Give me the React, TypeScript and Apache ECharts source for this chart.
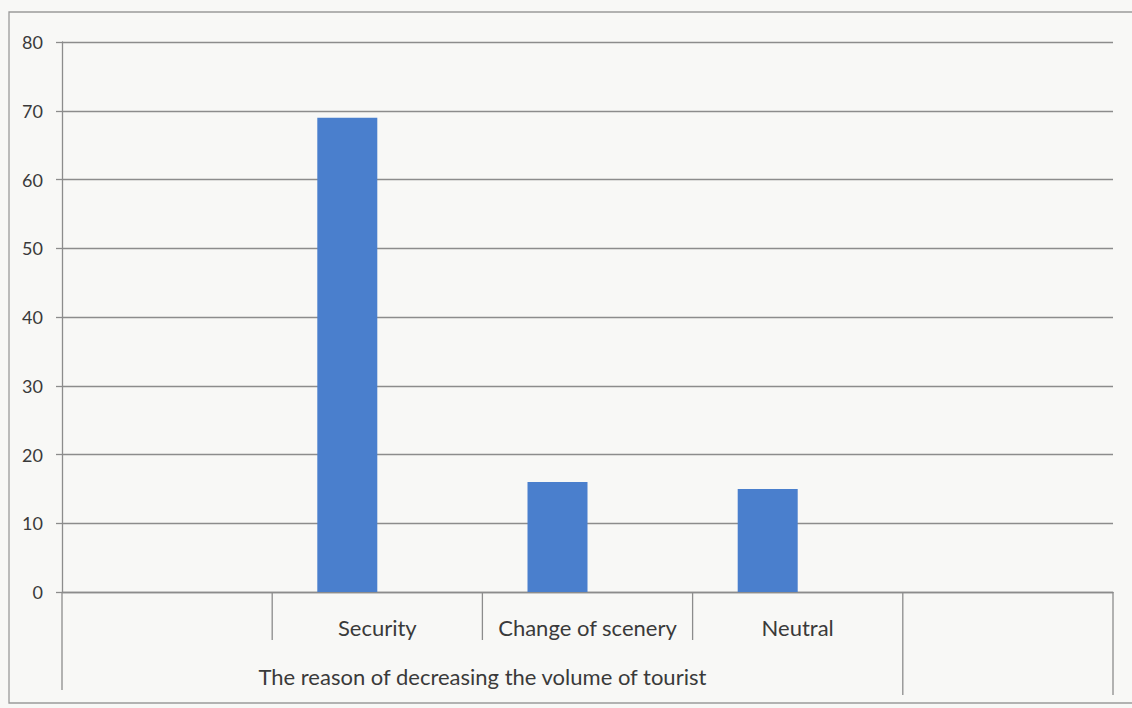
import React, { useEffect, useRef } from "react";
import * as echarts from "echarts";

const categories = ["", "Security", "Change of scenery", "Neutral", ""];
const seriesValues = [null, 69, 16, 15, null];
const emptySeries = [null, null, null, null, null];
const yTicks = { min: 0, max: 80, interval: 10 };
const groupLabel = "The reason of decreasing the volume of tourist";

const W = 1132;
const H = 708;
const GRID = { left: 62, right: 19, top: 42, bottom: 116 };
const FONT = "Lato, 'Open Sans', sans-serif";

export default function App() {
  const ref = useRef<HTMLDivElement>(null);
  useEffect(() => {
    if (!ref.current) return;
    const chart = echarts.init(ref.current, undefined, { renderer: "svg" });
    const gx0 = GRID.left;
    const gx1 = W - GRID.right;
    const gy1 = H - GRID.bottom;
    const catW = (gx1 - gx0) / categories.length;
    const lineStyle = { stroke: "#8c8c8c", lineWidth: 1.3 };
    const groupEnd = gx0 + catW * 4;
    const innerTicks = [1, 2, 3].map((i) => ({
      type: "line",
      silent: true,
      shape: { x1: gx0 + catW * i, y1: gy1, x2: gx0 + catW * i, y2: 640 },
      style: lineStyle,
    }));
    chart.setOption({
      animation: false,
      backgroundColor: "#f8f8f6",
      grid: { left: GRID.left, right: GRID.right, top: GRID.top, bottom: GRID.bottom },
      xAxis: {
        type: "category",
        data: categories,
        axisLine: { lineStyle: { color: "#8c8c8c", width: 1.3 } },
        axisTick: { show: false },
        axisLabel: { interval: 0, margin: 24, fontSize: 22, color: "#3a3a3a", fontFamily: FONT },
      },
      yAxis: {
        type: "value",
        min: yTicks.min,
        max: yTicks.max,
        interval: yTicks.interval,
        axisLine: { show: true, lineStyle: { color: "#8c8c8c", width: 1.3 } },
        axisTick: { show: true, length: 6, lineStyle: { color: "#8c8c8c", width: 1.3 } },
        axisLabel: { fontSize: 18, color: "#3a3a3a", margin: 19, fontFamily: FONT },
        splitLine: { lineStyle: { color: "#8c8c8c", width: 1.3 } },
      },
      series: [
        {
          type: "bar",
          data: seriesValues,
          barWidth: 60,
          barGap: "0%",
          itemStyle: { color: "#4a7fcd" },
        },
        {
          type: "bar",
          data: emptySeries,
          barWidth: 60,
          itemStyle: { color: "#c0504d" },
        },
      ],
      graphic: [
        {
          type: "rect",
          silent: true,
          shape: { x: 9, y: 12, width: W + 20, height: 691 },
          style: { fill: "none", stroke: "#9a9a9a", lineWidth: 1.3 },
        },
        { type: "line", silent: true, shape: { x1: gx0, y1: gy1, x2: gx0, y2: 690 }, style: lineStyle },
        ...innerTicks,
        { type: "line", silent: true, shape: { x1: groupEnd, y1: gy1, x2: groupEnd, y2: 695 }, style: lineStyle },
        { type: "line", silent: true, shape: { x1: gx1, y1: gy1, x2: gx1, y2: 695 }, style: lineStyle },
        {
          type: "text",
          x: (gx0 + groupEnd) / 2,
          y: 676,
          style: {
            text: groupLabel,
            fontSize: 22,
            fill: "#3a3a3a",
            fontFamily: FONT,
            align: "center",
            verticalAlign: "middle",
          },
        },
      ],
    });
    return () => chart.dispose();
  }, []);
  return (
    <div
      ref={ref}
      style={{ position: "fixed", left: 0, top: 0, width: W, height: H }}
    />
  );
}
